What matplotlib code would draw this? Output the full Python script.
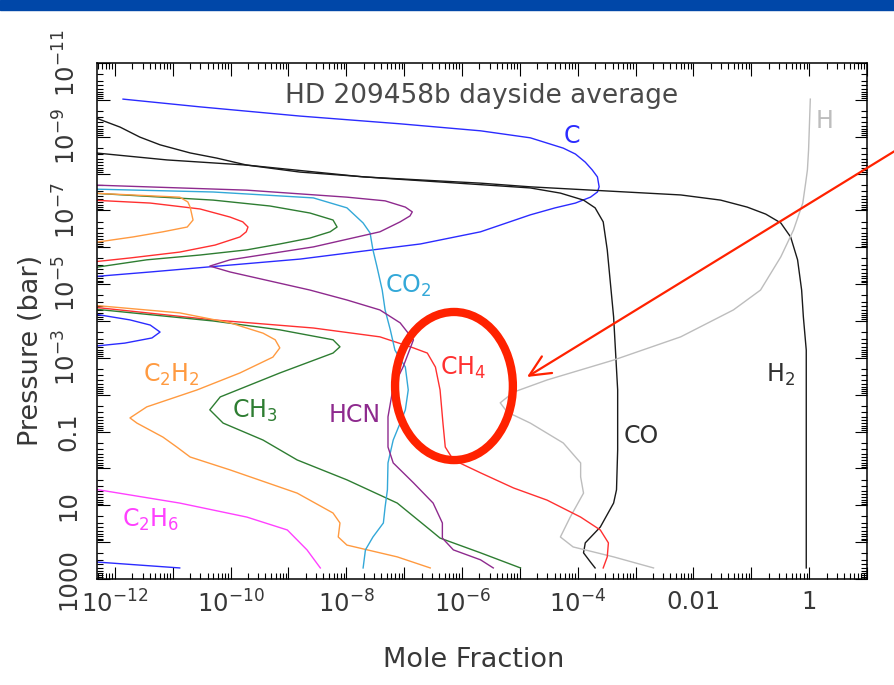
import numpy as np
import matplotlib
matplotlib.use('Agg')
import matplotlib.pyplot as plt
from matplotlib.patches import Ellipse, Rectangle
from matplotlib.ticker import FixedLocator, LogLocator, FuncFormatter, NullFormatter

plt.rcParams['font.family'] = ['DejaVu Sans']
plt.rcParams['mathtext.fontset'] = 'dejavusans'

# mixing-ratio profiles, stored as log10(mole fraction) vs log10(pressure / bar)
c_top_x = [-11.86, -10.53, -8.80, -7.07, -5.68, -4.82, -4.25, -4.04, -3.87, -3.75, -3.66,
           -3.63, -3.66, -3.78, -4.04, -4.39, -4.82, -5.68, -6.72, -7.54, -8.80, -10.36,
           -11.39, -12.40]
c_top_p = [-10.02, -9.81, -9.56, -9.35, -9.16, -8.97, -8.69, -8.53, -8.31, -8.10, -7.91,
           -7.64, -7.50, -7.36, -7.20, -7.07, -6.88, -6.42, -6.09, -5.93, -5.68, -5.47,
           -5.33, -5.20]
c_mid_x = [-12.40, -11.74, -11.39, -11.22, -11.36, -11.83, -12.40]
c_mid_p = [-4.20, -4.03, -3.89, -3.70, -3.54, -3.40, -3.31]
c_bot_x = [-12.40, -10.88]
c_bot_p = [2.53, 2.70]

co_x = [-12.40, -11.91, -11.57, -11.22, -10.70, -10.24, -9.72, -8.80, -7.42, -4.82, -4.30,
        -3.90, -3.70, -3.56, -3.49, -3.38, -3.31, -3.31, -3.33, -3.38, -3.61, -3.87, -3.90,
        -3.78, -3.70]
co_p = [-9.55, -9.26, -8.99, -8.78, -8.56, -8.42, -8.23, -8.04, -7.88, -7.61, -7.47,
        -7.28, -7.07, -6.69, -5.93, -4.11, -2.13, -0.50, 0.58, 0.94, 1.59, 2.02, 2.29,
        2.54, 2.70]

h2_x = [-12.40, -11.10, -9.72, -7.71, -5.68, -4.82, -2.22, -1.53, -1.07, -0.75, -0.49,
        -0.32, -0.20, -0.13, -0.10, -0.05, -0.05]
h2_p = [-8.57, -8.37, -8.23, -7.91, -7.74, -7.64, -7.42, -7.28, -7.09, -6.90, -6.66,
        -6.28, -5.66, -4.84, -4.11, -3.21, 2.70]

h_x = [0.02, -0.01, -0.03, -0.06, -0.11, -0.27, -0.49, -0.84, -1.31, -2.22, -3.38, -4.53,
       -5.11, -5.34, -5.22, -4.82, -4.25, -3.95, -3.95, -3.90, -4.13, -4.30, -4.08, -3.38,
       -2.69]
h_p = [-10.02, -8.64, -8.10, -7.75, -7.20, -6.47, -5.74, -4.84, -4.30, -3.57, -2.94, -2.40,
       -2.07, -1.78, -1.53, -1.23, -0.69, -0.15, 0.23, 0.67, 1.32, 1.86, 2.13, 2.40, 2.70]

ch4_top_x = [-12.40, -11.39, -10.53, -10.01, -9.79, -9.70, -9.73, -9.84, -10.27, -10.88,
             -11.74, -12.40]
ch4_top_p = [-7.28, -7.20, -7.04, -6.82, -6.69, -6.55, -6.42, -6.28, -6.06, -5.87, -5.71,
             -5.60]
ch4_x = [-12.40, -10.30, -8.57, -7.42, -6.84, -6.60, -6.46, -6.38, -6.33, -6.29, -6.15,
         -5.68, -5.11, -4.53, -3.95, -3.61, -3.47, -3.49, -3.56]
ch4_p = [-4.38, -4.03, -3.81, -3.57, -3.27, -3.13, -2.75, -2.13, -1.23, -0.58, -0.23,
         0.12, 0.53, 0.86, 1.32, 1.67, 2.02, 2.40, 2.70]

ch3_top_x = [-12.40, -10.30, -9.32, -8.63, -8.23, -8.16, -8.28, -8.63, -9.15, -9.72, -10.53,
             -11.45, -12.40]
ch3_top_p = [-7.47, -7.28, -7.12, -6.93, -6.74, -6.55, -6.42, -6.25, -6.09, -5.93, -5.79,
             -5.66, -5.44]
ch3_x = [-12.40, -10.30, -9.15, -8.23, -8.11, -8.23, -9.15, -10.18, -10.36, -10.13, -9.44,
         -8.85, -7.99, -7.12, -6.55, -6.38, -5.68, -4.99]
ch3_p = [-4.33, -4.00, -3.76, -3.49, -3.30, -3.13, -2.59, -1.94, -1.59, -1.23, -0.77,
         -0.23, 0.31, 0.94, 1.67, 1.89, 2.29, 2.70]

c2h2_top_x = [-12.40, -10.88, -10.74, -10.70, -10.65, -10.75, -11.17, -11.69, -12.40]
c2h2_top_p = [-7.47, -7.36, -7.23, -7.09, -6.74, -6.55, -6.42, -6.28, -6.12]
c2h2_x = [-12.40, -10.88, -10.01, -9.44, -9.23, -9.15, -9.27, -9.84, -10.58, -11.45, -11.74,
          -11.62, -11.17, -10.93, -10.70, -10.01, -8.85, -8.23, -8.11, -8.14, -7.99,
          -7.12, -6.55]
c2h2_p = [-4.43, -4.22, -3.95, -3.67, -3.49, -3.27, -3.02, -2.59, -2.13, -1.67, -1.37,
          -1.23, -0.85, -0.58, -0.31, 0.04, 0.67, 1.21, 1.48, 1.86, 2.08, 2.40, 2.70]

c2h6_x = [-12.40, -10.88, -9.72, -9.02, -8.68, -8.45]
c2h6_p = [0.55, 0.94, 1.32, 1.67, 2.21, 2.70]

co2_x = [-12.40, -10.30, -8.57, -7.99, -7.71, -7.59, -7.54, -7.47, -7.38, -7.33, -7.24,
         -7.16, -6.98, -6.93, -6.98, -7.07, -7.19, -7.28, -7.29, -7.33, -7.36, -7.54,
         -7.67, -7.71]
co2_p = [-7.58, -7.50, -7.34, -7.07, -6.66, -6.39, -5.93, -5.47, -4.84, -4.30, -3.76,
         -3.21, -2.75, -2.13, -1.59, -1.23, -0.77, -0.15, 0.58, 1.05, 1.48, 1.86, 2.21, 2.70]

hcn_x = [-12.40, -9.72, -7.99, -7.33, -6.98, -6.86, -6.90, -7.07, -7.42, -8.57, -10.01,
         -10.36, -10.01, -8.63, -7.99, -7.42, -7.07, -6.84, -7.02, -7.19, -7.28, -7.28,
         -7.19, -6.84, -6.50, -6.34, -6.34, -6.15, -5.68, -5.46]
hcn_p = [-7.69, -7.55, -7.36, -7.26, -7.09, -6.96, -6.85, -6.69, -6.42, -6.01, -5.66,
         -5.49, -5.33, -4.84, -4.57, -4.30, -3.95, -3.49, -2.75, -2.21, -1.40, -0.58,
         -0.15, 0.39, 0.94, 1.48, 1.89, 2.21, 2.48, 2.70]

col_c = '#2b2bff'
col_k = '#1a1a1a'
col_h = '#bdbdbd'
col_ch4 = '#ff3030'
col_ch3 = '#2e7d32'
col_c2h2 = '#ff9a40'
col_c2h6 = '#ff40ff'
col_co2 = '#33a8d8'
col_hcn = '#8e2a8e'
col_mark = '#ff2200'

fig = plt.figure(figsize=(8.94, 6.85), dpi=100)
fig.patches.append(Rectangle((0, 1 - 10 / 685), 1, 10 / 685, transform=fig.transFigure,
                             color='#0047a8', zorder=0))
ax = fig.add_axes([97 / 894, 106 / 685, 770 / 894, 516 / 685])


def profile(lx, lp, color):
    ax.plot(10.0 ** np.array(lx), 10.0 ** np.array(lp), color=color, lw=1.0)


profile(c_top_x, c_top_p, col_c)
profile(c_mid_x, c_mid_p, col_c)
profile(c_bot_x, c_bot_p, col_c)
profile(co_x, co_p, col_k)
profile(h2_x, h2_p, col_k)
profile(h_x, h_p, col_h)
profile(ch4_top_x, ch4_top_p, col_ch4)
profile(ch4_x, ch4_p, col_ch4)
profile(ch3_top_x, ch3_top_p, col_ch3)
profile(ch3_x, ch3_p, col_ch3)
profile(c2h2_top_x, c2h2_top_p, col_c2h2)
profile(c2h2_x, c2h2_p, col_c2h2)
profile(c2h6_x, c2h6_p, col_c2h6)
profile(co2_x, co2_p, col_co2)
profile(hcn_x, hcn_p, col_hcn)

ax.set_xscale('log')
ax.set_yscale('log')
ax.set_xlim(10 ** -12.31, 10 ** 1.0)
ax.set_ylim(1e3, 1e-11)


def decade_label(keep_even):
    def fmt(v, pos):
        e = int(round(np.log10(v)))
        if (e % 2 == 0) != keep_even:
            return ''
        if e >= -2:
            return '%g' % v
        return r'$10^{%d}$' % e
    return fmt


ax.xaxis.set_major_locator(FixedLocator(10.0 ** np.arange(-12, 2)))
ax.yaxis.set_major_locator(FixedLocator(10.0 ** np.arange(-11, 4)))
ax.xaxis.set_major_formatter(FuncFormatter(decade_label(True)))
ax.yaxis.set_major_formatter(FuncFormatter(decade_label(False)))
for axis in (ax.xaxis, ax.yaxis):
    axis.set_minor_locator(LogLocator(base=10, subs=np.arange(2, 10), numticks=200))
    axis.set_minor_formatter(NullFormatter())

ax.tick_params(which='both', direction='in', top=True, right=True, width=0.8,
               color='black', labelcolor='#383838', labelsize=17.5)
ax.tick_params(which='major', length=9)
ax.tick_params(which='minor', length=4.5)
ax.tick_params(axis='x', pad=8)
ax.tick_params(axis='y', pad=12, labelrotation=90)
plt.setp(ax.get_yticklabels(), va='center')
for s in ax.spines.values():
    s.set_linewidth(1.1)

fig.text(31 / 894, 1 - 350 / 685, 'Pressure (bar)', rotation=90, ha='center', va='center',
         fontsize=19.5, color='#383838')
fig.text(474 / 894, 1 - 660 / 685, 'Mole Fraction', ha='center', va='center',
         fontsize=19.5, color='#383838')
ax.text(0.5, 0.922, 'HD 209458b dayside average', transform=ax.transAxes, ha='center',
        va='baseline', fontsize=19, color='#4a4a4a')

# species labels
labels = [
    ('C', -4.25, -8.83, col_c),
    ('H', 0.11, -9.24, col_h),
    ('CO$_2$', -7.33, -4.76, col_co2),
    ('CH$_4$', -6.38, -2.54, col_ch4),
    ('C$_2$H$_2$', -11.52, -2.35, col_c2h2),
    ('CH$_3$', -9.98, -1.37, col_ch3),
    ('HCN', -8.31, -1.26, col_hcn),
    ('C$_2$H$_6$', -11.88, 1.59, col_c2h6),
    ('CO', -3.21, -0.69, '#303030'),
    ('H$_2$', -0.75, -2.35, '#303030'),
]
for txt, lx, lp, c in labels:
    ax.text(10 ** lx, 10 ** lp, txt, color=c, fontsize=17, ha='left', va='baseline')

# highlight around the methane quench region
ax.add_patch(Ellipse((0.4636, 0.374), 0.153, 0.287, transform=ax.transAxes, fill=False,
                     ec=col_mark, lw=6, clip_on=False, zorder=5))
ax.annotate('', xy=(0.5584, 0.3915), xycoords='axes fraction',
            xytext=(1.01, 1 - 146 / 685), textcoords='figure fraction',
            arrowprops=dict(arrowstyle='->,head_length=1.5,head_width=0.7', color=col_mark,
                            lw=1.6, shrinkA=0, shrinkB=0),
            annotation_clip=False)

fig.savefig('out.png', dpi=100)
